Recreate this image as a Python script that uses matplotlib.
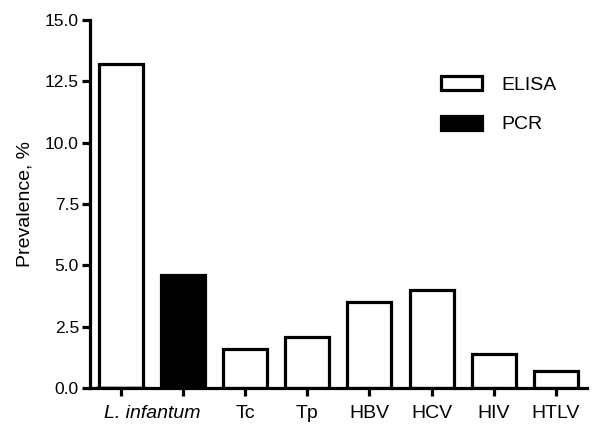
import numpy as np
import matplotlib.pyplot as plt

plt.rcParams['font.family'] = ['Liberation Sans', 'DejaVu Sans']

categories = ['L. infantum', 'L. infantum', 'Tc', 'Tp', 'HBV', 'HCV', 'HIV', 'HTLV']
methods = ['ELISA', 'PCR', 'ELISA', 'ELISA', 'ELISA', 'ELISA', 'ELISA', 'ELISA']
prevalence = [13.2, 4.6, 1.6, 2.1, 3.5, 4.0, 1.4, 0.7]

fig = plt.figure(figsize=(6, 4.37), dpi=100)
ax = fig.add_axes([0.15, 0.112, 0.828, 0.842])

x = np.arange(len(prevalence))
colors = ['black' if m == 'PCR' else 'white' for m in methods]
ax.bar(x, prevalence, width=0.71, color=colors, edgecolor='black', linewidth=2.3)

# legend handles
ax.bar([0], [0], color='white', edgecolor='black', linewidth=2.3, label='ELISA')
ax.bar([0], [0], color='black', edgecolor='black', linewidth=2.3, label='PCR')
ax.legend(frameon=False, loc='upper right', bbox_to_anchor=(0.975, 0.895),
          fontsize=14, handlelength=2.1, handleheight=0.75, labelspacing=1.1,
          handletextpad=1.0)

ax.set_xlim(-0.5, 7.5)
ax.set_ylim(0, 15)
yt = np.arange(0, 15.1, 2.5)
ax.set_yticks(yt)
ax.set_yticklabels([f'{v:.1f}' for v in yt], fontsize=12.5)
ax.set_xticks(x)
ax.set_xticklabels([])

# category labels (L. infantum spans both of its bars)
label_pos = [0.5, 2, 3, 4, 5, 6, 7]
label_txt = ['L. infantum', 'Tc', 'Tp', 'HBV', 'HCV', 'HIV', 'HTLV']
for p, t in zip(label_pos, label_txt):
    ax.text(p, -0.7, t, ha='center', va='top', fontsize=14,
            style='italic' if t.startswith('L.') else 'normal')

ax.set_ylabel('Prevalence, %', fontsize=14, labelpad=8)

for s in ['top', 'right']:
    ax.spines[s].set_visible(False)
for s in ['left', 'bottom']:
    ax.spines[s].set_linewidth(2.3)
ax.tick_params(axis='both', direction='out', width=2.3, length=6, pad=2)

plt.savefig('out.png', dpi=100)
